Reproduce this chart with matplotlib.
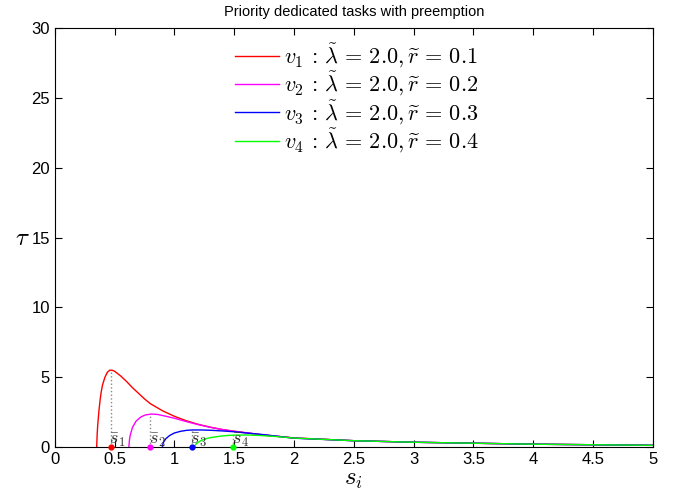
import numpy as np
from matplotlib import pyplot as plt

plt.rcParams["font.family"] = ["Liberation Sans", "DejaVu Sans"]
plt.rcParams["mathtext.fontset"] = "cm"

# curves: s_i -> tau
s1 = [0.351, 0.355, 0.36, 0.37, 0.38, 0.39, 0.40, 0.42, 0.44, 0.46, 0.48, 0.50, 0.55,
      0.60, 0.65, 0.70, 0.75, 0.80, 0.90, 1.00, 1.10, 1.20, 1.30, 1.40, 1.50, 1.75,
      2.0, 2.5, 3.0, 3.5, 4.0, 4.5, 5.0]
tau1 = [0.0, 0.9, 1.6, 2.6, 3.4, 4.0, 4.45, 5.0, 5.35, 5.5, 5.5, 5.43, 5.1,
        4.7, 4.25, 3.85, 3.45, 3.1, 2.6, 2.2, 1.88, 1.62, 1.42, 1.25, 1.13, 0.85,
        0.65, 0.45, 0.34, 0.27, 0.2, 0.16, 0.12]

s2 = [0.62, 0.625, 0.63, 0.65, 0.68, 0.72, 0.76, 0.81, 0.86, 0.92, 1.0, 1.1, 1.2,
      1.3, 1.4, 1.5, 1.75, 2.0, 2.5, 3.0, 3.5, 4.0, 4.5, 5.0]
tau2 = [0.0, 0.5, 0.8, 1.4, 1.85, 2.15, 2.3, 2.36, 2.33, 2.22, 2.06, 1.82, 1.6,
        1.41, 1.25, 1.12, 0.86, 0.64, 0.45, 0.34, 0.27, 0.2, 0.16, 0.12]

s3 = [0.90, 0.905, 0.91, 0.93, 0.96, 1.0, 1.05, 1.10, 1.15, 1.22, 1.3, 1.4, 1.5,
      1.75, 2.0, 2.5, 3.0, 3.5, 4.0, 4.5, 5.0]
tau3 = [0.0, 0.22, 0.35, 0.6, 0.82, 1.0, 1.12, 1.19, 1.22, 1.22, 1.2, 1.15, 1.09,
        0.88, 0.63, 0.45, 0.34, 0.27, 0.2, 0.16, 0.12]

s4 = [1.17, 1.175, 1.18, 1.21, 1.25, 1.3, 1.38, 1.45, 1.5, 1.6, 1.7, 1.85, 2.0,
      2.5, 3.0, 3.5, 4.0, 4.5, 5.0]
tau4 = [0.0, 0.13, 0.2, 0.4, 0.56, 0.67, 0.77, 0.83, 0.85, 0.86, 0.83, 0.75, 0.64,
        0.45, 0.34, 0.27, 0.2, 0.16, 0.12]

sBar = [0.468, 0.80, 1.145, 1.49]
tauPeak = [5.45, 2.36, 1.22, 0.85]

colors = ["#ff0000", "#ff00ff", "#0000ff", "#00ff00"]
rValues = [0.1, 0.2, 0.3, 0.4]
lam = 2.0

fig = plt.figure(figsize=(6.75, 4.92), dpi=100)
ax = fig.add_axes([0.081, 0.0915, 0.8864, 0.851])

curves = [(s1, tau1), (s2, tau2), (s3, tau3), (s4, tau4)]
for i, (s, tau) in enumerate(curves):
    label = r"$v_%d\,:\,\tilde{\lambda}\,=\,%.1f,\widetilde{r}\,=\,%.1f$" % (i + 1, lam, rValues[i])
    ax.plot(s, tau, color=colors[i], linewidth=1.0, label=label)

for i, x in enumerate(sBar):
    ax.plot([x, x], [0, tauPeak[i]], linestyle=":", color="#888888", linewidth=1.0)
    ax.plot(x, 0, "o", color=colors[i], markersize=3.5, clip_on=False, zorder=5)
    ax.text(x - 0.01, 0.25, r"$\bar{s}_%d$" % (i + 1), fontsize=13, color="#333333")

ax.set_xlim(0, 5)
ax.set_ylim(0, 30)
ax.set_xticks(np.arange(0, 5.01, 0.5))
ax.set_xticklabels(["0", "0.5", "1", "1.5", "2", "2.5", "3", "3.5", "4", "4.5", "5"])
ax.set_yticks(np.arange(0, 31, 5))
ax.tick_params(direction="in", top=True, right=True, labelsize=12, length=5)
ax.set_xlabel(r"$s_i$", fontsize=18, labelpad=0)
ax.set_ylabel(r"$\tau$", fontsize=18, labelpad=6, rotation=0, va="center")
ax.set_title("Priority dedicated tasks with preemption", fontsize=10.5, pad=9)

ax.legend(loc="upper center", frameon=False, fontsize=16, handlelength=2,
          handletextpad=0.2, labelspacing=0.0, borderaxespad=0.2,
          bbox_to_anchor=(0.505, 1.0))

plt.savefig("out.png")
